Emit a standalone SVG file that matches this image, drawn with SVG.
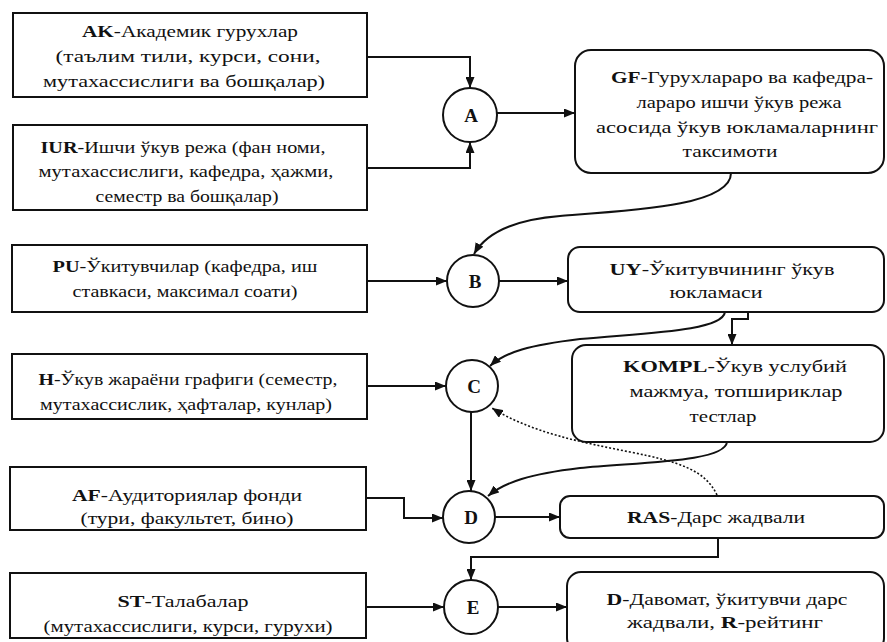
<svg xmlns="http://www.w3.org/2000/svg" width="887" height="642" viewBox="0 0 887 642">
<style>
.box{fill:#fff;stroke:#111;stroke-width:2}
.rbox{fill:#fff;stroke:#111;stroke-width:2}
.circ{fill:#fff;stroke:#111;stroke-width:2}
.t{font-family:"Liberation Serif","Times New Roman",serif;font-size:17px;fill:#111;text-anchor:middle}
.b{font-weight:bold}
.ct{font-family:"Liberation Serif","Times New Roman",serif;font-size:19px;font-weight:bold;fill:#111;text-anchor:middle}
.ln{fill:none;stroke:#111;stroke-width:2}
.dot{fill:none;stroke:#111;stroke-width:1.6;stroke-dasharray:2 2}
</style>
<defs>
<marker id="ar" markerUnits="userSpaceOnUse" markerWidth="11" markerHeight="9" refX="11" refY="4.5" orient="auto">
<path d="M0,0 L11,4.5 L0,9 z" fill="#111"/>
</marker>
</defs>

<g id="connectors">
<path class="ln" d="M367,57 H470 V88" marker-end="url(#ar)"/>
<path class="ln" d="M367,168 H470 V142" marker-end="url(#ar)"/>
<path class="ln" d="M496,113 H575" marker-end="url(#ar)"/>
<path class="ln" d="M731,173 C731,205 640,210 560,216 C510,220 485,235 474,254" marker-end="url(#ar)"/>
<path class="ln" d="M367,281 H447" marker-end="url(#ar)"/>
<path class="ln" d="M499,281 H568" marker-end="url(#ar)"/>
<path class="ln" d="M748,312 V319 H732 V345" marker-end="url(#ar)"/>
<path class="ln" d="M725,312 C722,332 640,333 580,339 C530,345 505,352 490,366" marker-end="url(#ar)"/>
<path class="ln" d="M367,386 H446" marker-end="url(#ar)"/>
<path class="dot" d="M717,495 C705,470 680,462 630,452 C580,442 530,432 492,408" marker-end="url(#ar)"/>
<path class="ln" d="M471,412 V491" marker-end="url(#ar)"/>
<path class="ln" d="M727,442 C725,462 640,462 580,468 C530,474 505,482 488,496" marker-end="url(#ar)"/>
<path class="ln" d="M366,498 H404 V518 H443" marker-end="url(#ar)"/>
<path class="ln" d="M495,517 H560" marker-end="url(#ar)"/>
<path class="ln" d="M718,538 V557 H471 V580" marker-end="url(#ar)"/>
<path class="ln" d="M366,607 H444" marker-end="url(#ar)"/>
<path class="ln" d="M498,607 H567" marker-end="url(#ar)"/>
</g>

<g id="AK">
<rect class="box" x="13" y="13" width="354" height="84"/>
<text class="t" x="190" y="37" textLength="216" lengthAdjust="spacingAndGlyphs"><tspan class="b">AK</tspan>-Академик гурухлар</text>
<text class="t" x="188" y="62" textLength="265" lengthAdjust="spacingAndGlyphs">(таълим тили, курси, сони,</text>
<text class="t" x="184" y="87" textLength="282" lengthAdjust="spacingAndGlyphs">мутахассислиги ва бошқалар)</text>
</g>

<g id="IUR">
<rect class="box" x="13" y="125" width="354" height="85"/>
<text class="t" x="183" y="153" textLength="285" lengthAdjust="spacingAndGlyphs"><tspan class="b">IUR</tspan>-Ишчи ўкув режа (фан номи,</text>
<text class="t" x="186" y="177" textLength="295" lengthAdjust="spacingAndGlyphs">мутахассислиги, кафедра, ҳажми,</text>
<text class="t" x="187" y="202" textLength="183" lengthAdjust="spacingAndGlyphs">семестр ва бошқалар)</text>
</g>

<g id="PU">
<rect class="box" x="12" y="245" width="355" height="67"/>
<text class="t" x="185" y="272" textLength="265" lengthAdjust="spacingAndGlyphs"><tspan class="b">PU</tspan>-Ўкитувчилар (кафедра, иш</text>
<text class="t" x="185" y="297" textLength="225" lengthAdjust="spacingAndGlyphs">ставкаси, максимал соати)</text>
</g>

<g id="H">
<rect class="box" x="12" y="354" width="355" height="65"/>
<text class="t" x="188" y="385" textLength="299" lengthAdjust="spacingAndGlyphs"><tspan class="b">H</tspan>-Ўкув жараёни графиги (семестр,</text>
<text class="t" x="186" y="410" textLength="292" lengthAdjust="spacingAndGlyphs">мутахассислик, ҳафталар, кунлар)</text>
</g>

<g id="AF">
<rect class="box" x="10" y="467" width="356" height="63"/>
<text class="t" x="187" y="501" textLength="230" lengthAdjust="spacingAndGlyphs"><tspan class="b">AF</tspan>-Аудиториялар фонди</text>
<text class="t" x="187" y="524" textLength="213" lengthAdjust="spacingAndGlyphs">(тури, факультет, бино)</text>
</g>

<g id="ST">
<rect class="box" x="10" y="573" width="356" height="65"/>
<text class="t" x="183" y="607" textLength="131" lengthAdjust="spacingAndGlyphs"><tspan class="b">ST</tspan>-Талабалар</text>
<text class="t" x="188" y="632" textLength="289" lengthAdjust="spacingAndGlyphs">(мутахассислиги, курси, гурухи)</text>
</g>

<g id="A"><circle class="circ" cx="470" cy="115" r="27"/><text class="ct" x="471" y="122">A</text></g>
<g id="B"><circle class="circ" cx="473" cy="281" r="26"/><text class="ct" x="475" y="288">B</text></g>
<g id="C"><circle class="circ" cx="472" cy="386" r="26"/><text class="ct" x="474" y="393">C</text></g>
<g id="D"><circle class="circ" cx="469" cy="517" r="26"/><text class="ct" x="471" y="524">D</text></g>
<g id="E"><circle class="circ" cx="471" cy="607" r="27"/><text class="ct" x="473" y="614">E</text></g>

<g id="GF">
<rect class="rbox" x="575" y="50" width="309" height="123" rx="16"/>
<text class="t" x="742" y="83" textLength="262" lengthAdjust="spacingAndGlyphs"><tspan class="b">GF</tspan>-Гурухлараро ва кафедра-</text>
<text class="t" x="739" y="108" textLength="205" lengthAdjust="spacingAndGlyphs">лараро ишчи ўкув режа</text>
<text class="t" x="737" y="133" textLength="282" lengthAdjust="spacingAndGlyphs">асосида ўкув юкламаларнинг</text>
<text class="t" x="730" y="157" textLength="95" lengthAdjust="spacingAndGlyphs">таксимоти</text>
</g>

<g id="UY">
<rect class="rbox" x="568" y="247" width="316" height="65" rx="12"/>
<text class="t" x="722" y="275" textLength="225" lengthAdjust="spacingAndGlyphs"><tspan class="b">UY</tspan>-Ўкитувчининг ўкув</text>
<text class="t" x="716" y="298" textLength="93" lengthAdjust="spacingAndGlyphs">юкламаси</text>
</g>

<g id="KOMPL">
<rect class="rbox" x="572" y="345" width="312" height="97" rx="14"/>
<text class="t" x="735" y="372" textLength="224" lengthAdjust="spacingAndGlyphs"><tspan class="b">KOMPL</tspan>-Ўкув услубий</text>
<text class="t" x="736" y="397" textLength="213" lengthAdjust="spacingAndGlyphs">мажмуа, топшириклар</text>
<text class="t" x="723" y="422" textLength="67" lengthAdjust="spacingAndGlyphs">тестлар</text>
</g>

<g id="RAS">
<rect class="rbox" x="560" y="496" width="324" height="42" rx="10"/>
<text class="t" x="716" y="523" textLength="178" lengthAdjust="spacingAndGlyphs"><tspan class="b">RAS</tspan>-Дарс жадвали</text>
</g>

<g id="Dbox">
<rect class="rbox" x="567" y="572" width="317" height="80" rx="14"/>
<text class="t" x="727" y="605" textLength="241" lengthAdjust="spacingAndGlyphs"><tspan class="b">D</tspan>-Давомат, ўкитувчи дарс</text>
<text class="t" x="725" y="628" textLength="196" lengthAdjust="spacingAndGlyphs">жадвали, <tspan class="b">R</tspan>-рейтинг</text>
</g>
</svg>
